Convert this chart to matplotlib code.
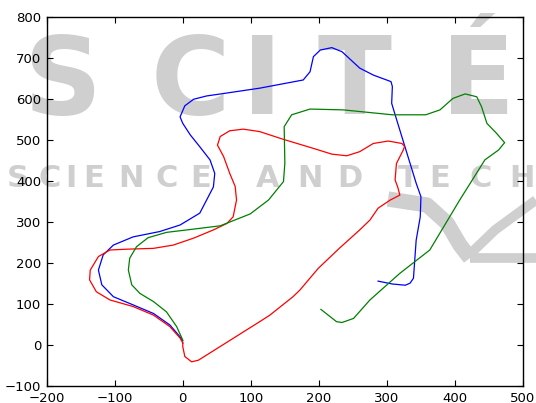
import matplotlib
import matplotlib.pyplot as plt
from matplotlib.lines import Line2D

matplotlib.use("Agg")

# trajectory coordinates
blue_x = [0, -4, -19, -43, -73, -102, -119, -124, -117, -102, -73, -34, -4, 13, 25, 35,
          45, 47, 40, 25, 11, 0, -4, 3, 16, 35, 60, 113, 177, 187, 192, 202, 219, 234,
          260, 280, 306, 308, 307, 313, 328, 343, 350, 349, 343, 339, 334, 327, 308, 287]
blue_y = [10, 20, 49, 77, 98, 118, 147, 183, 220, 244, 264, 277, 293, 310, 322, 354,
          386, 419, 452, 484, 513, 541, 557, 584, 600, 608, 614, 627, 647, 667, 704, 720, 726, 716,
          676, 659, 643, 631, 590, 557, 476, 395, 362, 313, 256, 163, 151, 146, 149, 156]

red_x = [0, 0, 3, 13, 23, 113, 128, 162, 172, 199, 230, 260, 275, 287, 305, 319, 316,
         312, 314, 324, 326, 322, 302, 280, 260, 241, 219, 192, 148, 113, 89, 69, 55, 51,
         60, 69, 77, 79, 74, 65, 45, 16, -14, -43, -82, -107, -124, -136, -137, -127,
         -107, -73, -43, -19, -4, 0]
red_y = [5, -4, -28, -41, -37, 57, 73, 118, 134, 187, 236, 281, 305, 334, 354, 366, 385,
         403, 443, 476, 485, 492, 498, 492, 472, 462, 466, 480, 502, 521, 527, 523, 509, 488,
         460, 419, 387, 354, 313, 297, 281, 261, 244, 236, 234, 232, 216, 183, 159, 130,
         110, 94, 73, 45, 17, 5]

green_x = [0, -9, -24, -43, -63, -75, -80, -78, -68, -51, -24, 16, 55, 99, 126, 148,
           150, 149, 160, 187, 236, 308, 357, 378, 397, 415, 432, 439, 447, 461, 473,
           464, 444, 407, 363, 319, 275, 251, 234, 226, 203]
green_y = [12, 45, 81, 106, 126, 147, 183, 212, 240, 262, 275, 283, 291, 320, 354, 399,
           444, 533, 562, 576, 574, 562, 562, 574, 602, 613, 606, 582, 541, 517, 494,
           476, 452, 354, 232, 175, 110, 65, 55, 57, 87]

series = [(blue_x, blue_y, "b"), (red_x, red_y, "r"), (green_x, green_y, "g")]

W, H = 536, 403
fig = plt.figure(figsize=(W / 100, H / 100), dpi=100)
ax = fig.add_axes([46.7 / W, 1 - 386 / H, (523 - 46.7) / W, (386 - 17.3) / H])
ax.patch.set_alpha(0)

# faint publisher watermark behind the plot
wm = "#cfcfcf"
for ch, cx in zip("SCITÉ", [62, 190, 262, 355, 478]):
    fig.text(cx / W, 1 - 114 / H, ch, fontsize=78, fontweight="bold", color=wm,
             ha="center", va="baseline", zorder=-5)
small = [("S", 18), ("C", 50), ("I", 71), ("E", 94), ("N", 131), ("C", 167), ("E", 201),
         ("A", 268), ("N", 310), ("D", 350),
         ("T", 408), ("E", 440), ("C", 481), ("H", 522), ("N", 560)]
for ch, cx in small:
    fig.text(cx / W, 1 - 187 / H, ch, fontsize=22, fontweight="bold", color=wm,
             ha="center", va="baseline", zorder=-5)
for px, py, lw in [([388, 427, 447, 460, 470], [199, 205, 223, 245, 258], 11),
                   ([468, 495, 536], [256, 230, 200], 7),
                   ([470, 536], [258, 258], 7)]:
    fig.add_artist(Line2D([p / W for p in px], [1 - p / H for p in py], color=wm,
                          lw=lw, solid_capstyle="butt", zorder=-5))

for xs, ys, c in series:
    ax.plot(xs, ys, color=c, lw=0.9)

ax.set_xlim(-200, 500)
ax.set_ylim(-100, 800)
ax.set_xticks(range(-200, 501, 100))
ax.set_yticks(range(-100, 801, 100))
ax.tick_params(direction="in", top=True, right=True, length=4, width=0.8,
               labelsize=9.5, pad=4)
for s in ax.spines.values():
    s.set_linewidth(1.0)

plt.savefig("out.png", dpi=100)
